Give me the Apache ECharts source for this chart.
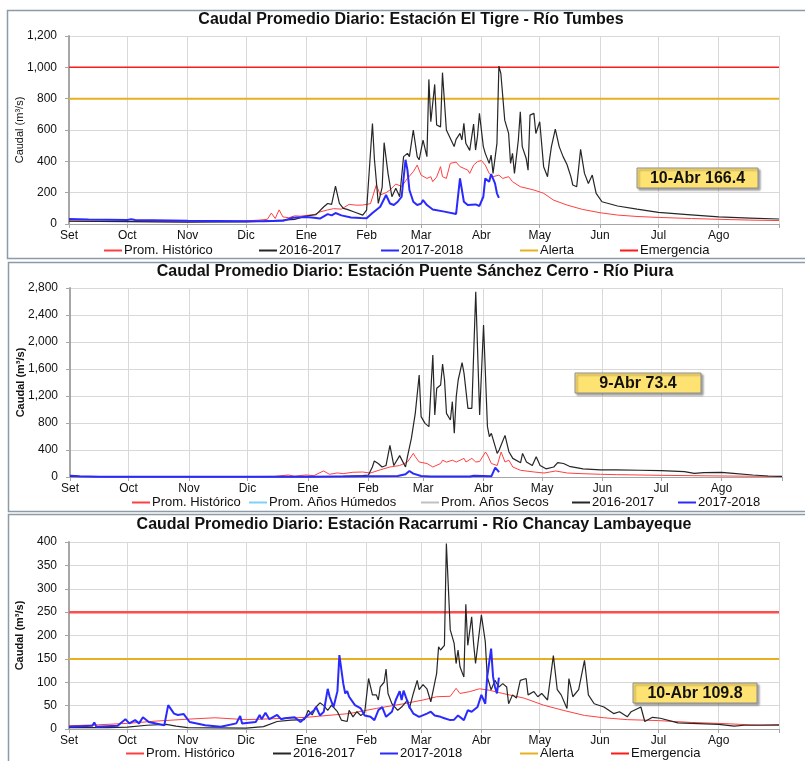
<!DOCTYPE html>
<html>
<head>
<meta charset="utf-8">
<script src="https://cdn.jsdelivr.net/npm/echarts@6/dist/echarts.min.js"></script>
<style>
  html, body { margin: 0; padding: 0; background: #fff; }
  #chart { width: 805px; height: 761px; }
</style>
</head>
<body>
<div id="chart"></div>
<script>
// Hydrological year: 1 Sep 2017 .. 1 Sep 2018 (daily categories)
const monthLabels = ['Ene', 'Feb', 'Mar', 'Abr', 'May', 'Jun', 'Jul', 'Ago', 'Set', 'Oct', 'Nov', 'Dic'];

// Each series is a list of [day since 1 Sep, caudal m3/s]
// ---- Estación El Tigre - Río Tumbes ----
const tumbesTicks = [0, 200, 400, 600, 800, 1000, 1200];
const tumbesAlerta = 800;
const tumbesEmergencia = 1000;
const tumbesHist = [[0,18],[15,17],[30,16],[61,14],[91,20],[98,25],[102,30],[104,70],[106,35],[108,90],[110,45],[113,40],[116,52],[119,50],[122,55],[126,60],[129,77],[133,90],[136,98],[140,95],[144,125],[148,120],[151,121],[155,130],[158,250],[160,185],[163,200],[165,217],[168,255],[171,240],[174,291],[177,334],[179,376],[181,312],[184,291],[186,302],[187,270],[189,300],[191,366],[192,302],[194,291],[196,387],[199,395],[201,366],[203,355],[205,344],[206,323],[208,376],[210,398],[212,405],[214,376],[216,323],[218,302],[221,312],[223,291],[226,302],[228,270],[232,238],[239,217],[244,196],[249,153],[256,121],[264,93],[273,72],[282,57],[292,48],[303,42],[320,35],[334,30],[350,25],[365,22]];
const tumbes1617 = [[0,18],[30,15],[61,12],[91,14],[100,18],[110,25],[116,30],[122,51],[127,60],[131,110],[133,131],[135,125],[137,242],[139,131],[141,100],[143,93],[147,75],[151,57],[153,89],[156,642],[157,415],[159,131],[161,236],[162,519],[164,323],[166,174],[168,228],[170,174],[172,430],[174,451],[175,430],[177,600],[179,430],[180,410],[182,536],[184,430],[185,923],[186,653],[188,891],[189,632],[191,620],[192,966],[194,600],[195,589],[198,494],[199,540],[201,578],[202,536],[203,642],[204,515],[206,470],[208,638],[209,472],[210,560],[211,706],[213,494],[214,451],[216,387],[217,440],[218,323],[220,515],[221,1008],[222,962],[224,663],[226,578],[227,387],[228,451],[229,323],[231,536],[232,717],[233,494],[235,420],[236,344],[237,695],[239,706],[240,578],[242,653],[244,366],[246,302],[247,408],[248,494],[250,606],[252,494],[254,430],[256,380],[258,302],[259,249],[261,238],[263,476],[265,323],[267,259],[269,312],[271,196],[274,142],[282,115],[292,95],[303,74],[318,60],[334,45],[350,38],[365,32]];
const tumbes1718 = [[0,32],[10,28],[20,27],[30,26],[32,30],[34,25],[61,20],[91,18],[100,18],[110,20],[115,40],[122,45],[126,40],[129,35],[133,63],[135,55],[137,70],[140,55],[145,42],[150,38],[153,36],[156,70],[160,110],[163,185],[165,131],[167,121],[169,142],[170,131],[171,174],[173,410],[174,344],[175,217],[177,142],[179,121],[181,130],[182,153],[184,121],[187,93],[193,79],[199,64],[201,291],[203,142],[205,121],[209,125],[210,136],[211,115],[213,174],[214,291],[216,270],[217,319],[219,259],[220,196],[221,166.4]];

// ---- Estación Puente Sánchez Cerro - Río Piura ----
const piuraTicks = [0, 400, 800, 1200, 1600, 2000, 2400, 2800];
const piuraHist = [[0,8],[30,6],[61,5],[91,6],[105,10],[112,30],[115,12],[121,30],[125,20],[130,90],[133,40],[137,60],[140,50],[145,70],[150,74],[154,59],[159,106],[164,148],[169,170],[173,222],[176,350],[177,301],[179,222],[183,200],[186,148],[190,200],[191,249],[193,220],[196,249],[198,222],[202,276],[203,222],[206,276],[208,222],[210,230],[213,370],[214,326],[216,200],[219,170],[221,370],[223,222],[225,249],[227,148],[231,99],[238,74],[243,59],[249,89],[255,59],[262,50],[272,40],[280,35],[303,25],[334,15],[365,8]];
const piuraHumedos = [];
const piuraSecos = [];
const piura1617 = [[0,5],[61,3],[122,5],[140,10],[150,20],[153,30],[155,148],[156,237],[158,200],[160,148],[162,170],[163,150],[164,469],[166,170],[167,148],[169,317],[170,301],[172,148],[173,301],[175,572],[177,943],[179,1511],[180,894],[182,795],[183,820],[184,746],[185,1289],[186,1807],[187,919],[188,1314],[190,1363],[191,1674],[192,1437],[193,943],[195,845],[196,1116],[197,647],[198,1190],[199,1437],[201,1693],[202,1536],[204,1017],[206,1017],[208,2745],[210,919],[212,2251],[214,746],[215,598],[216,647],[218,449],[219,350],[220,400],[221,425],[223,617],[225,375],[227,276],[231,212],[232,350],[234,222],[237,170],[239,301],[241,170],[244,121],[248,148],[250,212],[253,200],[256,158],[263,121],[272,106],[280,106],[292,100],[303,93],[315,80],[320,55],[325,65],[334,68],[340,55],[350,30],[358,15],[365,8]];
const piura1718 = [[0,20],[5,10],[15,5],[61,3],[122,5],[150,10],[168,15],[172,40],[174,89],[176,50],[180,15],[185,8],[205,8],[207,20],[208,8],[216,10],[218,138],[219,110],[220,73.4]];

// ---- Estación Racarrumi - Río Chancay Lambayeque ----
const chancayTicks = [0, 50, 100, 150, 200, 250, 300, 350, 400];
const chancayAlerta = 150;
const chancayEmergencia = 250;
const chancayHist = [[0,7],[15,9],[30,12],[45,17],[61,21],[75,24],[91,20],[105,22],[122,25],[144,33],[158,44],[172,54],[182,62],[189,69],[196,70],[199,87],[201,76],[206,80],[211,86],[216,83],[223,76],[234,66],[244,51],[254,40],[265,29],[275,24],[287,20],[303,18],[320,14],[334,12],[350,9],[365,8]];
const chancay1617 = [[0,3],[20,3],[30,4],[40,8],[50,10],[55,6],[61,3],[91,2],[100,5],[107,16],[114,19],[121,20],[123,40],[125,30],[127,47],[129,56],[131,50],[133,40],[135,51],[138,37],[140,19],[143,16],[144,40],[146,26],[148,37],[150,29],[152,35],[154,108],[156,73],[158,73],[159,62],[160,90],[162,100],[163,128],[164,76],[166,54],[169,40],[171,47],[174,62],[175,44],[177,76],[179,104],[180,84],[182,95],[184,86],[186,58],[187,54],[189,119],[190,176],[191,169],[193,179],[194,397],[196,212],[198,183],[199,140],[200,169],[201,133],[203,111],[204,267],[205,179],[207,240],[208,183],[209,140],[210,140],[212,244],[214,187],[215,112],[217,84],[219,104],[221,90],[223,97],[225,90],[226,54],[228,73],[230,66],[232,104],[235,108],[236,73],[239,80],[241,69],[243,76],[246,62],[249,157],[251,84],[253,73],[256,44],[257,108],[259,69],[262,84],[265,147],[267,73],[270,54],[275,47],[280,33],[283,37],[287,26],[289,37],[294,47],[296,16],[300,25],[304,23],[313,13],[320,12],[334,10],[342,6],[347,8],[355,8],[365,9]];
const chancay1718 = [[0,5],[12,7],[13,14],[14,5],[25,7],[29,21],[31,12],[34,19],[36,12],[38,25],[41,15],[49,8],[51,51],[54,33],[56,30],[59,32],[62,15],[70,8],[78,5],[86,12],[88,28],[89,12],[96,15],[98,30],[99,21],[101,35],[103,21],[107,30],[109,21],[111,23],[116,25],[119,15],[121,23],[126,40],[127,47],[129,29],[131,37],[133,86],[134,69],[136,47],[138,81],[139,158],[141,97],[142,76],[143,81],[144,69],[147,51],[150,44],[152,29],[155,26],[157,19],[159,40],[161,47],[163,26],[166,37],[168,62],[170,81],[171,62],[172,82],[175,47],[177,33],[180,26],[184,33],[186,37],[188,29],[191,26],[193,23],[196,19],[198,20],[200,29],[203,19],[205,40],[207,37],[210,47],[212,73],[214,54],[215,112],[217,172],[218,112],[219,90],[220,76],[221,109.8]];

// ---------------------------------------------------------------
const FONT = "'Liberation Sans', Arial, sans-serif";
const DAY = 86400000;
const start = Date.UTC(2017, 8, 1);
const days = [];
const monthStart = new Set();
for (let i = 0; i <= 365; i++) {
  const d = new Date(start + i * DAY);
  days.push(d.toISOString().slice(0, 10));
  if (d.getUTCDate() === 1) monthStart.add(i);
}
const lastDay = days.length - 1;
const flat = (v) => [[0, v], [lastDay, v]];
const fmt = (v) => String(v).replace(/\B(?=(\d{3})+(?!\d))/g, ',');

const C = {
  hist: '#ff4040',
  y1617: '#262626',
  y1718: '#2a2aff',
  alerta: '#e8b021',
  emerg: '#ff1a1a',
  humedos: '#7fd0f5',
  secos: '#c0c0c0'
};

const grids = [
  { left: 69, top: 36, width: 710, height: 188 },
  { left: 70, top: 288, width: 712, height: 189 },
  { left: 69, top: 542, width: 710, height: 187 }
];

function xAxisFor(g) {
  return {
    type: 'category', gridIndex: g, data: days, boundaryGap: false,
    axisLine: { lineStyle: { color: '#a6a6a6', width: 1 } },
    axisTick: { interval: (i) => monthStart.has(i), length: 4, lineStyle: { color: '#a6a6a6' } },
    axisLabel: {
      interval: (i) => monthStart.has(i) && i < lastDay,
      formatter: (v) => monthLabels[new Date(v + 'T00:00:00Z').getUTCMonth()],
      margin: 6, fontSize: 12, color: '#111', fontFamily: FONT
    },
    splitLine: { show: true, interval: (i) => monthStart.has(i), lineStyle: { color: '#d9d9d9' } }
  };
}

function yAxisFor(g, ticks, bold) {
  return {
    type: 'value', gridIndex: g,
    min: ticks[0], max: ticks[ticks.length - 1], interval: ticks[1] - ticks[0],
    axisLine: { show: true, lineStyle: { color: '#a6a6a6', width: 2 } },
    axisTick: { show: true, length: 4, lineStyle: { color: '#a6a6a6' } },
    axisLabel: { formatter: fmt, margin: 12, fontSize: 12, color: '#111', fontFamily: FONT },
    splitLine: { lineStyle: { color: '#d9d9d9' } },
    name: 'Caudal (m³/s)', nameLocation: 'middle', nameGap: 44, nameMoveOverlap: false,
    nameTextStyle: { fontSize: 11, color: '#111', fontFamily: FONT, fontWeight: bold ? 'bold' : 'normal' }
  };
}

function line(name, g, data, color, width, z) {
  return {
    type: 'line', name, xAxisIndex: g, yAxisIndex: g, data,
    symbol: 'none', silent: true, z: z,
    lineStyle: { color, width }, itemStyle: { color }
  };
}

function legendItem(name, left, top) {
  return {
    data: [name], left, top, padding: 0, itemWidth: 18, itemHeight: 2, itemGap: 0,
    icon: 'rect', selectedMode: false,
    textStyle: { fontSize: 13, color: '#111', fontFamily: FONT, padding: [0, 0, 0, -3] }
  };
}

function valueBox(x, y, w, h, text) {
  return [
    {
      type: 'rect', shape: { x, y, width: w, height: h }, z: 100,
      style: { fill: '#ffe372', stroke: '#8c8c8c', lineWidth: 1,
        shadowBlur: 2, shadowOffsetX: 2, shadowOffsetY: 2, shadowColor: 'rgba(0,0,0,0.35)' }
    },
    {
      type: 'text', x: x + w / 2, y: y + h / 2 + 1, z: 101,
      style: { text, font: 'bold 16px ' + FONT, fill: '#111', align: 'center', verticalAlign: 'middle' }
    }
  ];
}

function frame(x, y, w, h) {
  return { type: 'rect', shape: { x, y, width: w, height: h }, z: -1,
    style: { fill: 'none', stroke: '#8d9aa8', lineWidth: 1.5 } };
}

const titleStyle = { fontSize: 16, fontWeight: 'bold', color: '#111', fontFamily: FONT };

const option = {
  animation: false,
  backgroundColor: '#fff',
  title: [
    { text: 'Caudal Promedio Diario: Estación El Tigre - Río Tumbes', left: 411, top: 12, textAlign: 'center', padding: 0, textStyle: titleStyle },
    { text: 'Caudal Promedio Diario: Estación Puente Sánchez Cerro - Río Piura', left: 415, top: 264, textAlign: 'center', padding: 0, textStyle: titleStyle },
    { text: 'Caudal Promedio Diario: Estación Racarrumi - Río Chancay Lambayeque', left: 414, top: 517, textAlign: 'center', padding: 0, textStyle: titleStyle }
  ],
  grid: grids,
  xAxis: [xAxisFor(0), xAxisFor(1), xAxisFor(2)],
  yAxis: [yAxisFor(0, tumbesTicks, false), yAxisFor(1, piuraTicks, true), yAxisFor(2, chancayTicks, true)],
  legend: [
    legendItem('Prom. Histórico', 104, 244),
    legendItem('2016-2017', 259, 244),
    legendItem('2017-2018', 381, 244),
    legendItem('Alerta', 520, 244),
    legendItem('Emergencia', 620, 244),

    legendItem('Prom. Histórico', 132, 496),
    legendItem('Prom. Años Húmedos', 249, 496),
    legendItem('Prom. Años Secos', 421, 496),
    legendItem('2016-2017', 572, 496),
    legendItem('2017-2018', 678, 496),

    legendItem('Prom. Histórico', 126, 747),
    legendItem('2016-2017', 273, 747),
    legendItem('2017-2018', 380, 747),
    legendItem('Alerta', 520, 747),
    legendItem('Emergencia', 611, 747)
  ],
  series: [
    line('Alerta', 0, flat(tumbesAlerta), C.alerta, 2, 1),
    line('Emergencia', 0, flat(tumbesEmergencia), C.emerg, 1.5, 1),
    line('Prom. Histórico', 0, tumbesHist, C.hist, 1, 2),
    line('2016-2017', 0, tumbes1617, C.y1617, 1.2, 3),
    line('2017-2018', 0, tumbes1718, C.y1718, 2, 4),

    line('Prom. Histórico', 1, piuraHist, C.hist, 1, 2),
    line('Prom. Años Húmedos', 1, piuraHumedos, C.humedos, 2, 2),
    line('Prom. Años Secos', 1, piuraSecos, C.secos, 2, 2),
    line('2016-2017', 1, piura1617, C.y1617, 1.2, 3),
    line('2017-2018', 1, piura1718, C.y1718, 2, 4),

    line('Alerta', 2, flat(chancayAlerta), C.alerta, 2, 1),
    line('Emergencia', 2, flat(chancayEmergencia), '#ff4d4d', 2.5, 1),
    line('Prom. Histórico', 2, chancayHist, C.hist, 1, 2),
    line('2016-2017', 2, chancay1617, C.y1617, 1.2, 3),
    line('2017-2018', 2, chancay1718, C.y1718, 2, 4)
  ],
  graphic: [
    frame(7.5, 10.5, 810, 248),
    frame(8.5, 262.5, 810, 249),
    frame(8.5, 514.5, 810, 260),
    ...valueBox(637, 168, 121, 20, '10-Abr 166.4'),
    ...valueBox(575, 373, 126, 20, '9-Abr 73.4'),
    ...valueBox(633, 683, 124, 20, '10-Abr 109.8')
  ]
};

const chart = echarts.init(document.getElementById('chart'), null, { renderer: 'canvas' });
chart.setOption(option);
</script>
</body>
</html>
